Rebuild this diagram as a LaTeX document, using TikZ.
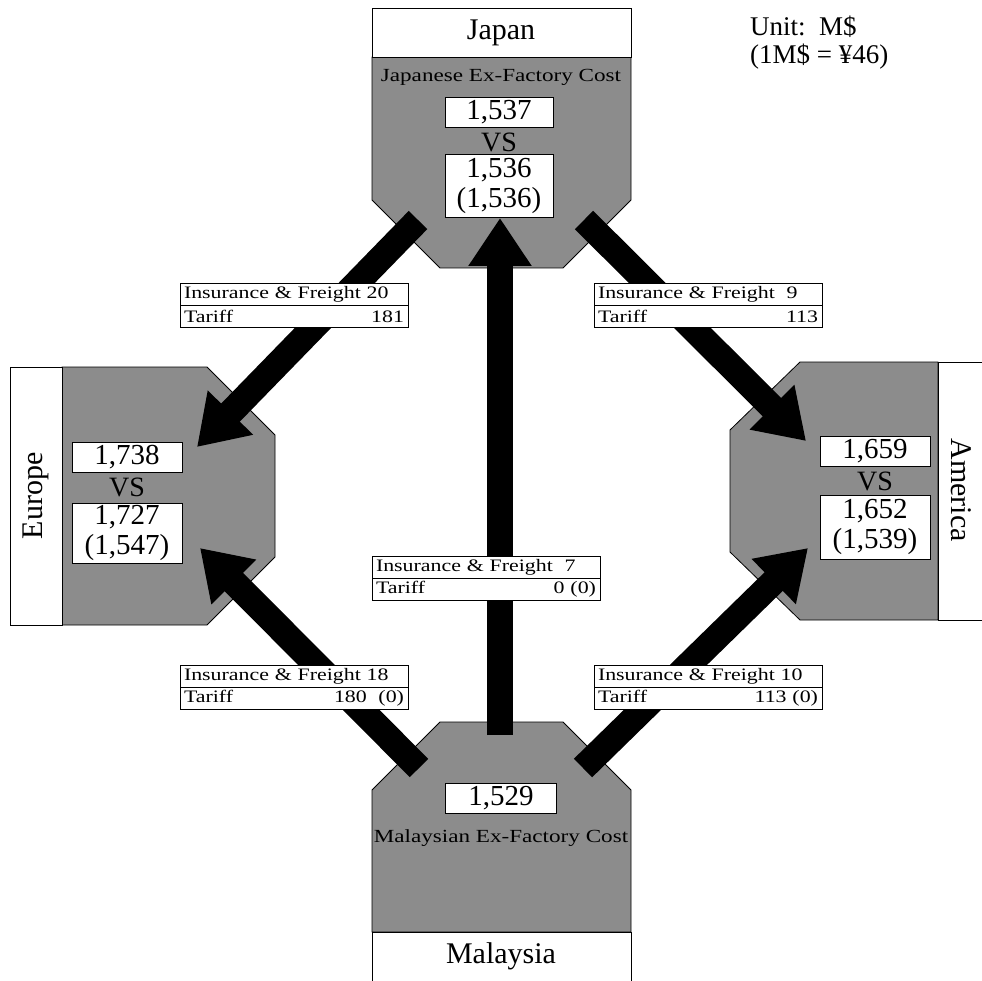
\documentclass[tikz,border=0pt]{standalone}
\usepackage{fontspec}
\setmainfont{Liberation Serif}
\newfontfamily\widefont[FakeStretch=1.25]{Liberation Serif}
\usetikzlibrary{arrows.meta, positioning}

\begin{document}
\begin{tikzpicture}[x=1pt, y=-1pt,
    region/.style={draw=black, fill=black!45, line width=0.8pt},
    namebox/.style={draw=black, fill=white, line width=0.8pt},
    nametext/.style={font=\fontsize{30}{32}\selectfont},
    valbox/.style={draw=black, fill=white, minimum width=108pt, minimum height=30pt, inner sep=1pt, align=center, font=\fontsize{29}{30}\selectfont},
    vs/.style={font=\fontsize{28}{30}\selectfont},
    costtext/.style={font=\widefont\fontsize{18.5}{20}\selectfont},
    tagrow/.style={draw=black, fill=white, text width=220pt, minimum height=22pt, inner xsep=4pt, inner ysep=0pt, outer sep=0pt, font=\widefont\fontsize{17.5}{18}\selectfont},
    flow/.style={line width=26pt, -{Triangle[length=48pt, width=60pt]}},
]
    \useasboundingbox (0,0) rectangle (982,981);

    % gray cost regions
    \draw[region] (372,57) -- (631,57) -- (631,200) -- (563,268) -- (440,268) -- (372,200) -- cycle;
    \draw[region] (62,367) -- (207,367) -- (275,435) -- (275,557) -- (207,625) -- (62,625) -- cycle;
    \draw[region] (800,362) -- (938,362) -- (938,620) -- (800,620) -- (730,552) -- (730,430) -- cycle;
    \draw[region] (440,722) -- (563,722) -- (631,790) -- (631,932) -- (372,932) -- (372,790) -- cycle;

    % country name boxes
    \draw[namebox] (372,8) rectangle (631,57);
    \draw[namebox] (10,367) rectangle (62,625);
    \draw[namebox] (938,362) rectangle (1000,620);
    \draw[namebox] (372,932) rectangle (631,1000);
    \node[nametext] (jp-name) at (501,33) {Japan};
    \node[nametext, rotate=90] (eu-name) at (36,496) {Europe};
    \node[nametext, rotate=-90] (am-name) at (961,490) {America};
    \node[nametext] (my-name) at (501,956) {Malaysia};

    \node[anchor=north west, align=left, inner sep=2pt, font=\fontsize{27}{28}\selectfont] (unit) at (748,14) {Unit:\ \ M\$\\(1M\$ = ¥46)};

    % arrow ends
    \coordinate (jp-l) at (418,220);
    \coordinate (jp-r) at (584,220);
    \coordinate (jp-in) at (500,218);
    \coordinate (eu-t) at (197,447);
    \coordinate (eu-b) at (200,548);
    \coordinate (am-t) at (806,441);
    \coordinate (am-b) at (808,548);
    \coordinate (my-l) at (419,768);
    \coordinate (my-c) at (500,735);
    \coordinate (my-r) at (583,768);

    \draw[flow] (jp-l) -- (eu-t);
    \draw[flow] (jp-r) -- (am-t);
    \draw[flow] (my-c) -- (jp-in);
    \draw[flow] (my-l) -- (eu-b);
    \draw[flow] (my-r) -- (am-b);

    % cost values
    \node[costtext] (jp-cost) at (501,77) {Japanese Ex-Factory Cost};
    \node[valbox] (jp-a) at (499,112) {1,537};
    \node[vs] (jp-vs) at (499,142) {VS};
    \node[valbox, minimum height=63pt] (jp-b) at (499,186) {1,536\\(1,536)};

    \node[valbox, minimum width=110pt] (eu-a) at (127,457) {1,738};
    \node[vs] (eu-vs) at (127,487) {VS};
    \node[valbox, minimum width=110pt, minimum height=60pt] (eu-b) at (127,533) {1,727\\(1,547)};

    \node[valbox, minimum width=110pt] (am-a) at (875,451) {1,659};
    \node[vs] (am-vs) at (875,481) {VS};
    \node[valbox, minimum width=110pt, minimum height=64pt] (am-b) at (875,527) {1,652\\(1,539)};

    \node[valbox, minimum width=111pt] (my-a) at (501,798) {1,529};
    \node[costtext] (my-cost) at (501,838) {Malaysian Ex-Factory Cost};

    % freight and tariff tags
    \node[tagrow] (jpeu-if) at (294,294) {Insurance~\&~Freight~20};
    \node[tagrow, below=0pt of jpeu-if] (jpeu-tf) {Tariff\hfill 181\hspace*{20pt}};
    \node[tagrow] (jpam-if) at (708,294) {Insurance~\&~Freight~~9};
    \node[tagrow, below=0pt of jpam-if] (jpam-tf) {Tariff\hfill 113\hspace*{16pt}};
    \node[tagrow] (myjp-if) at (486,567) {Insurance~\&~Freight~~7};
    \node[tagrow, below=0pt of myjp-if] (myjp-tf) {Tariff\hfill 0~(0)};
    \node[tagrow] (myeu-if) at (294,676) {Insurance~\&~Freight~18};
    \node[tagrow, below=0pt of myeu-if] (myeu-tf) {Tariff\hfill 180~~(0)};
    \node[tagrow] (myam-if) at (708,676) {Insurance~\&~Freight~10};
    \node[tagrow, below=0pt of myam-if] (myam-tf) {Tariff\hfill 113~(0)};
\end{tikzpicture}
\end{document}
